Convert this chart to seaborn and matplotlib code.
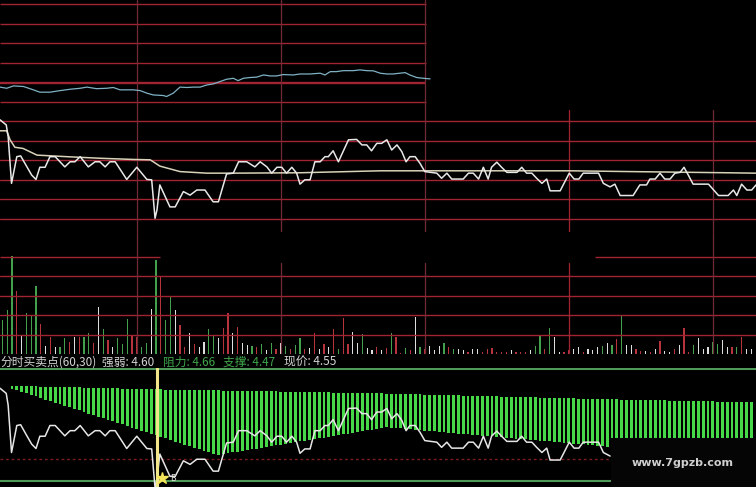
import numpy as np
import matplotlib.pyplot as plt
import matplotlib.transforms as mtransforms
from matplotlib.patches import Rectangle
import seaborn as sns

# ---- values (x axis = trading minute) ----
# index line in the top strip
index_t = [1.5, 2.9, 4.3, 6.4, 8.1, 9.8, 11.9, 14.0, 16.1, 18.2,
           19.6, 21.6, 23.7, 25.1, 26.5, 29.3, 30.7, 32.1, 33.4, 35.5,
           36.2, 37.6, 39.0, 40.4, 41.8, 43.2, 44.6, 45.9, 47.3, 48.7,
           50.1, 51.1, 52.2, 53.6, 55.0, 56.4, 57.8, 59.1, 60.5, 62.6,
           64.0, 66.1, 68.2, 69.2, 70.3, 71.6, 73.0, 75.1, 76.5, 77.9,
           79.3, 80.7, 82.1, 83.4, 84.8, 85.9, 86.9, 88.3, 89.7, 91.1]
index_val = [3107.7, 3107.1, 3108.3, 3108.0, 3106.6, 3105.1, 3105.1, 3105.9, 3106.6, 3107.1,
             3107.7, 3106.9, 3107.1, 3107.5, 3106.3, 3106.3, 3105.9, 3104.6, 3103.7, 3103.4,
             3102.9, 3104.6, 3107.7, 3107.5, 3107.7, 3107.7, 3108.8, 3109.3, 3110.5, 3111.7,
             3112.2, 3111.0, 3112.2, 3112.6, 3112.8, 3113.9, 3113.4, 3113.4, 3114.1, 3113.9,
             3114.4, 3114.4, 3114.8, 3113.9, 3115.6, 3115.6, 3116.1, 3116.1, 3116.5, 3116.1,
             3116.0, 3114.8, 3114.4, 3114.4, 3114.8, 3115.1, 3113.9, 3112.6, 3112.2, 3111.9]

# stock price and its average line
price_t = [1.5, 2.8, 3.2, 3.9, 5.0, 5.8, 7.1, 8.1, 9.0, 9.8,
           10.9, 11.9, 13.0, 15.0, 16.1, 17.1, 18.2, 19.9, 21.3, 22.3,
           23.4, 24.4, 25.5, 27.9, 30.0, 32.1, 33.1, 33.8, 34.2, 34.8,
           36.9, 38.0, 39.7, 41.1, 42.5, 44.2, 45.9, 47.0, 48.7, 50.1,
           51.2, 52.9, 54.6, 55.7, 57.1, 58.1, 59.2, 60.2, 61.2, 62.3,
           63.3, 64.0, 65.0, 66.1, 67.1, 68.2, 69.2, 69.9, 70.9, 72.0,
           74.1, 75.8, 76.9, 77.9, 78.9, 80.0, 81.0, 82.1, 83.1, 84.2,
           85.2, 86.1, 86.9, 88.0, 89.0, 90.0, 92.5, 93.5, 94.6, 95.6,
           98.0, 99.1, 100.1, 101.2, 102.2, 103.2, 103.9, 105.0, 106.0, 107.1,
           109.2, 110.2, 111.2, 112.3, 113.3, 114.4, 115.4, 116.1, 118.2, 120.1,
           121.1, 122.1, 123.0, 126.2, 127.2, 128.6, 129.6, 130.7, 133.4, 134.8,
           136.2, 136.9, 138.0, 139.0, 140.0, 141.1, 142.1, 143.2, 144.0, 144.9,
           145.9, 149.1, 151.2, 153.2, 154.3, 155.0, 156.0, 157.1, 158.1, 159.0]
price = [4.703, 4.690, 4.660, 4.541, 4.609, 4.611, 4.583, 4.562, 4.551, 4.582,
         4.582, 4.609, 4.609, 4.583, 4.596, 4.596, 4.609, 4.583, 4.596, 4.596,
         4.583, 4.596, 4.596, 4.551, 4.582, 4.551, 4.550, 4.452, 4.473, 4.537,
         4.481, 4.481, 4.520, 4.511, 4.524, 4.524, 4.494, 4.494, 4.565, 4.567,
         4.596, 4.596, 4.583, 4.596, 4.583, 4.567, 4.582, 4.582, 4.567, 4.582,
         4.567, 4.539, 4.550, 4.550, 4.596, 4.596, 4.609, 4.609, 4.624, 4.596,
         4.652, 4.653, 4.639, 4.639, 4.624, 4.643, 4.643, 4.652, 4.626, 4.639,
         4.622, 4.596, 4.609, 4.609, 4.592, 4.571, 4.567, 4.554, 4.567, 4.552,
         4.552, 4.567, 4.567, 4.552, 4.582, 4.552, 4.582, 4.595, 4.582, 4.569,
         4.569, 4.582, 4.567, 4.567, 4.554, 4.541, 4.552, 4.522, 4.522, 4.567,
         4.552, 4.552, 4.567, 4.567, 4.541, 4.532, 4.539, 4.510, 4.510, 4.537,
         4.537, 4.552, 4.552, 4.567, 4.552, 4.552, 4.567, 4.569, 4.582, 4.562,
         4.539, 4.539, 4.510, 4.510, 4.524, 4.510, 4.539, 4.524, 4.524, 4.537]
avg_t = [1.5, 2.9, 3.6, 4.6, 6.3, 9.2, 15.4, 22.3, 29.2, 32.8,
         34.8, 39.0, 44.6, 50.0, 64.0, 80.7, 120.3, 132.8, 152.9, 159.0]
avg_price = [4.675, 4.675, 4.652, 4.633, 4.630, 4.613, 4.609, 4.605, 4.602, 4.601,
             4.585, 4.571, 4.567, 4.567, 4.568, 4.573, 4.573, 4.571, 4.568, 4.567]

# volume per minute (from minute 2), and bar colour: r up / g down / w flat
volume = [3490, 4510, 10060, 6500, 1850, 4240, 3970, 6980, 3080, 820,
          1780, 750, 750, 1610, 1270, 1780, 1710, 1710, 2120, 1090,
          4790, 2530, 1440, 680, 1610, 1030, 3560, 1950, 1710, 680,
          1160, 4580, 9640, 8000, 3490, 5950, 4510, 2980, 680, 2120,
          1030, 750, 1270, 2530, 1850, 1640, 2630, 4240, 2190, 2800,
          1160, 920, 820, 750, 990, 410, 1160, 480, 1160, 820,
          550, 890, 1610, 480, 580, 2190, 480, 1030, 680, 2600,
          480, 3660, 1030, 2290, 1090, 2050, 580, 410, 750, 410,
          580, 2120, 1710, 140, 580, 410, 3760, 680, 480, 820,
          410, 820, 1090, 680, 550, 550, 410, 240, 550, 550,
          240, 480, 580, 240, 210, 210, 410, 210, 210, 240,
          410, 820, 1850, 480, 2630, 1780, 240, 210, 410, 480,
          680, 240, 550, 410, 680, 820, 1160, 890, 1510, 3970,
          920, 890, 550, 340, 270, 210, 550, 1370, 340, 210,
          480, 890, 2670, 210, 960, 1640, 550, 680, 1230, 1030,
          1440, 750, 750, 750, 1780, 480, 480]
vol_side = ("gggrwgggrw" "rwggrwrggr" "wgrwgggrrg" "gwgrggwrrw" "rwwggwrrwr"
            "wwgrgwgrwg" "rggrwrwrwr" "grrwwgwwrw" "rgrrgrwgrw" "wwgrgwwrww"
            "rrrrrrwrrr" "wggrgwwrrw" "wrwwwgwgrg" "wwrrwrwrww" "rwrrgwwwgg"
            "wwrgrww")

# 分时买卖点 histogram: depth of upper / lower bar edge (from minute 4)
osc_top = [17.8, 17.9, 18.0, 18.1, 18.2, 18.3, 18.5, 18.6, 18.7, 18.8,
           18.9, 19.0, 19.2, 19.3, 19.4, 19.5, 19.6, 19.8, 19.9, 20.0,
           20.1, 20.2, 20.3, 20.5, 20.6, 20.7, 20.8, 20.9, 21.0, 21.2,
           21.3, 21.4, 21.5, 21.5, 21.6, 21.7, 21.8, 21.9, 22.0, 22.1,
           22.1, 22.2, 22.3, 22.4, 22.5, 22.6, 22.7, 22.7, 22.8, 22.9,
           23.0, 23.1, 23.2, 23.3, 23.3, 23.4, 23.5, 23.6, 23.7, 23.8,
           23.9, 24.0, 24.0, 24.1, 24.2, 24.3, 24.4, 24.5, 24.6, 24.6,
           24.7, 24.8, 24.9, 25.0, 25.1, 25.2, 25.2, 25.3, 25.5, 25.6,
           25.7, 25.8, 26.0, 26.1, 26.2, 26.3, 26.5, 26.6, 26.7, 26.9,
           27.0, 27.1, 27.2, 27.4, 27.5, 27.6, 27.7, 27.9, 28.0, 28.1,
           28.2, 28.4, 28.5, 28.6, 28.7, 28.9, 29.0, 29.1, 29.2, 29.4,
           29.5, 29.6, 29.7, 29.9, 30.0, 30.1, 30.2, 30.4, 30.5, 30.6,
           30.7, 30.9, 31.0, 31.1, 31.2, 31.3, 31.4, 31.5, 31.6, 31.7,
           31.8, 31.9, 32.0, 32.1, 32.2, 32.3, 32.4, 32.5, 32.6, 32.7,
           32.8, 32.9, 33.0, 33.1, 33.2, 33.3, 33.4, 33.5, 33.6, 33.7,
           33.8, 33.9, 34.0, 34.1, 34.2]
osc_bottom = [20.6, 22.2, 23.8, 25.3, 26.9, 28.4, 30.0, 31.5, 33.1, 34.6,
              36.2, 37.7, 39.3, 40.9, 42.4, 44.0, 45.5, 47.1, 48.6, 50.2,
              51.7, 53.3, 54.8, 56.4, 57.9, 59.5, 61.0, 62.6, 64.2, 65.7,
              67.3, 68.8, 70.4, 71.9, 73.5, 75.0, 76.6, 78.1, 79.7, 81.2,
              82.8, 84.4, 85.9, 86.8, 86.0, 85.2, 84.4, 83.6, 82.8, 82.1,
              81.3, 80.5, 79.7, 78.9, 78.1, 77.3, 76.6, 75.8, 75.0, 74.2,
              73.4, 72.6, 71.8, 71.1, 70.3, 69.5, 68.7, 67.9, 67.1, 66.3,
              65.6, 64.8, 64.0, 63.2, 62.4, 61.6, 60.8, 60.1, 59.3, 59.6,
              60.0, 60.4, 60.8, 61.3, 61.7, 62.1, 62.5, 62.9, 63.4, 63.8,
              64.2, 64.6, 65.0, 65.5, 65.9, 66.3, 66.7, 67.1, 67.6, 68.0,
              68.4, 68.8, 69.2, 69.7, 70.1, 70.5, 70.9, 71.3, 71.8, 72.2,
              72.6, 73.0, 73.4, 73.8, 74.3, 74.7, 75.1, 75.5, 75.9, 76.4,
              76.8, 77.2, 77.6, 78.0, 78.5, 78.9, 79.3, 79.7, 80.1, 80.5,
              80.9, 81.4, 81.8, 82.2, 82.6, 83.0, 83.4, 83.8, 84.3, 84.7,
              85.1, 85.5, 85.9, 86.3, 86.8, 87.2, 87.6, 88.0, 88.4, 88.8,
              89.2, 89.7, 90.1, 90.5, 90.9]

index_levels = [3100, 3110, 3120, 3130, 3140, 3150]
price_levels = [4.45, 4.50, 4.55, 4.60, 4.65, 4.70]
vol_levels = [2000, 4000, 6000, 8000]
half_hours = [30, 60, 90, 120, 150]
strength, resist, support, last = 4.60, 4.66, 4.47, 4.55
buy_t, buy_price = 34.15, 4.476

# ---- style ----
sns.set_theme(style="dark", rc={"axes.facecolor": "black", "figure.facecolor": "black"})
plt.rcParams['font.family'] = ['Noto Sans CJK SC', 'DejaVu Sans']

GRID = '#a02432'
DIM = '#742a36'
W, H = 756, 487
X0, X1 = 1.5, 159.0
fig = plt.figure(figsize=(W / 100, H / 100), dpi=100)


def panel(y0, y1):
    ax = fig.add_axes([0, 1 - y1 / H, 1, (y1 - y0) / H])
    ax.set_xlim(X0, X1)
    ax.set_axis_off()
    return ax


# top strip: index
ax_top = panel(0, 110)
ax_top.set_ylim(3096.0, 3152.2)
for lv in index_levels:
    ax_top.hlines(lv, X0, 90.3, color=GRID, lw=1.7 if lv == 3110 else 1.0)
for t in half_hours[:3]:
    ax_top.axvline(t, color=DIM, lw=0.9)
sns.lineplot(x=index_t, y=index_val, ax=ax_top, color='#7fb2c4', lw=0.9)

# price panel
ax_mid = panel(110, 232)
ax_mid.set_ylim(4.417, 4.728)
for lv in price_levels:
    ax_mid.axhline(lv, color=GRID, lw=1.0)
for t in half_hours:
    ax_mid.axvline(t, color=GRID if t == 120 else DIM, lw=0.9)
sns.lineplot(x=avg_t, y=avg_price, ax=ax_mid, color='#d8d2b8', lw=1.1)
sns.lineplot(x=price_t, y=price, ax=ax_mid, color='#e8e8e8', lw=1.1, sort=False)

# volume panel
ax_vol = panel(232, 354)
ax_vol.set_ylim(0, 12517)
for lv in vol_levels:
    ax_vol.axhline(lv, color=GRID, lw=1.0)
ax_vol.hlines(10000, X0, 34.8, color=GRID, lw=1.0)
ax_vol.hlines(10000, 125.5, X1, color=GRID, lw=1.0)
for t in half_hours:
    top = 1.0 if t in (30, 150) else 0.746
    ax_vol.axvline(t, ymax=top, color=GRID if t == 120 else DIM, lw=0.9)
side_colors = {'r': '#b8343c', 'g': '#44a04c', 'w': '#dedede'}
vol_minutes = np.arange(2, 2 + len(volume))
ax_vol.bar(vol_minutes, volume, width=0.28, color=[side_colors[s] for s in vol_side], lw=0)

# title row of the indicator
ty = 1 - 362 / H
white, green = '#d4d4d4', '#3fa64a'
fig.text(0.001, ty, '分时买卖点(60,30)', color=white, fontsize=8.5, va='center')
fig.text(101.7 / W, ty, f'强弱: {strength:.2f}', color=white, fontsize=8.5, va='center')
fig.text(162.7 / W, ty, f'阻力: {resist:.2f}', color=green, fontsize=8.5, va='center')
fig.text(223.3 / W, ty, f'支撑: {support:.2f}', color=green, fontsize=8.5, va='center')
fig.text(284.3 / W, ty, f'现价: {last:.2f}', color=white, fontsize=8.5, va='center')

# indicator panel
ax_ind = panel(368, 487)
ax_ind.set_ylim(119, 0)
osc_minutes = np.arange(4, 4 + len(osc_top))
ax_ind.bar(osc_minutes, np.array(osc_bottom) - np.array(osc_top), bottom=osc_top,
           width=0.62, color='#46d846', lw=0)

ax_px = ax_ind.twinx()
ax_px.set_xlim(X0, X1)
ax_px.set_ylim(4.454, 4.754)
ax_px.set_axis_off()
ax_px.axhline(4.752, color='#4f9a58', lw=1.5)
ax_px.axhline(support, color='#4f9a58', lw=1.5)
ax_px.axhline(4.525, color='#7c1c20', lw=1.0, ls=(0, (2, 2)))
shown = np.array(price_t) <= 128.6
sns.lineplot(x=np.array(price_t)[shown], y=np.array(price)[shown], ax=ax_px,
             color='#e6e6e6', lw=1.1, sort=False)
ax_px.axvline(buy_t, color='#f2e68a', lw=2.2)
ax_px.plot([buy_t + 1.05], [buy_price], marker='*', ms=9, color='#f4e45a', mec='#f4e45a')
ax_px.text(buy_t + 3.3, buy_price, 'B', color='#e0e0e0', fontsize=6, ha='center', va='center')

# watermark block in the lower right corner
blend = mtransforms.blended_transform_factory(ax_px.transData, ax_px.transAxes)
ax_px.add_patch(Rectangle((128.8, 0), X1 - 128.8, 0.412, transform=blend,
                          facecolor='#050505', edgecolor='none', zorder=10))
ax_px.text(143.8, 0.20, 'www.7gpzb.com', transform=blend, color='#cfcfcf',
           fontsize=8, fontweight='bold', ha='center', va='center', zorder=11,
           family='DejaVu Sans')

fig.savefig('out.png', dpi=100, facecolor='black')
